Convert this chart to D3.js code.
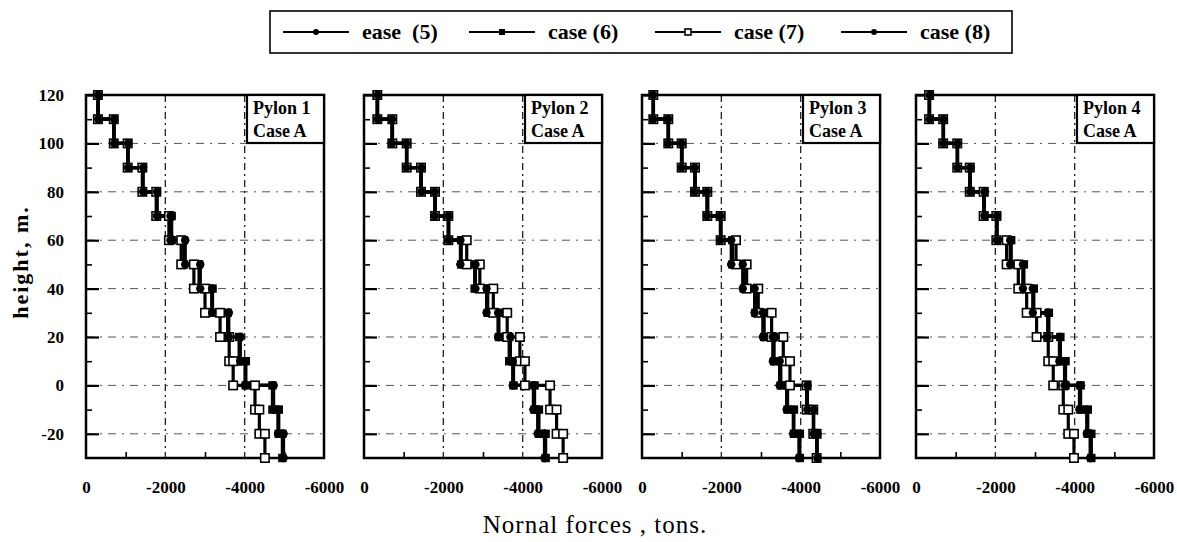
<!DOCTYPE html>
<html>
<head>
<meta charset="utf-8">
<script src="https://cdn.jsdelivr.net/npm/d3@7"></script>
<style>
body { margin: 0; background: #fff; }
svg { display: block; }
.tick text { font-family: "Liberation Serif", "DejaVu Serif", serif; font-weight: bold; font-size: 17px; fill: #000; }
</style>
</head>
<body>
<div id="chart"></div>
<script>
// heights of the segment ends (m), top to bottom
var heights = [120, 110, 100, 90, 80, 70, 60, 50, 40, 30, 20, 10, 0, -10, -20, -30];
var yMajor = [120, 100, 80, 60, 40, 20, 0, -20];
var yMinor = [110, 90, 70, 50, 30, 10, -10];
var yGrid = [100, 80, 60, 40, 20, 0, -20];
var xMajor = [0, -2000, -4000, -6000];
var xMinor = [-1000, -3000, -5000];
var xGrid = [-2000, -4000];
var caseNames = ["ease  (5)", "case (6)", "case (7)", "case (8)"];
var pylonNames = ["Pylon 1", "Pylon 2", "Pylon 3", "Pylon 4"];
var subTitle = "Case A";

// normal force per segment (tons), one value per 10 m segment
var p1c5 = [-300, -700, -1050, -1430, -1780, -2150, -2490, -2870, -3170, -3590, -3880, -4010, -4720, -4840, -4970];
var p1c6 = [-300, -700, -1060, -1430, -1790, -2160, -2470, -2850, -3190, -3570, -3860, -4030, -4700, -4860, -4950];
var p1c7 = [-300, -700, -1050, -1420, -1770, -2090, -2400, -2720, -3000, -3380, -3610, -3710, -4260, -4370, -4510];
var p1c8 = [-310, -710, -1060, -1440, -1790, -2130, -2500, -2880, -3180, -3600, -3890, -4020, -4730, -4850, -4980];

var p2c5 = [-340, -710, -1075, -1440, -1790, -2125, -2440, -2800, -3100, -3390, -3680, -3760, -4280, -4390, -4560];
var p2c6 = [-330, -720, -1080, -1430, -1800, -2140, -2450, -2790, -3120, -3400, -3660, -3770, -4300, -4410, -4580];
var p2c7 = [-336, -714, -1075, -1437, -1790, -2125, -2590, -2920, -3260, -3610, -3930, -4057, -4690, -4855, -5020];
var p2c8 = [-345, -705, -1070, -1445, -1785, -2130, -2430, -2810, -3090, -3380, -3690, -3750, -4270, -4380, -4550];

var p3c5 = [-285, -663, -1000, -1336, -1646, -1983, -2260, -2553, -2848, -3057, -3310, -3478, -3646, -3814, -3956];
var p3c6 = [-290, -670, -1010, -1340, -1660, -1990, -2280, -2570, -2860, -3080, -3330, -3500, -3670, -3830, -3980];
var p3c7 = [-285, -663, -1000, -1336, -1646, -1983, -2370, -2638, -2931, -3268, -3562, -3730, -4150, -4318, -4402];
var p3c8 = [-280, -660, -995, -1330, -1640, -1975, -2250, -2540, -2840, -3050, -3300, -3470, -4170, -4330, -4420];

var p4c5 = [-336, -689, -1042, -1361, -1714, -2033, -2386, -2705, -2956, -3334, -3629, -3755, -4133, -4318, -4402];
var p4c6 = [-340, -695, -1050, -1370, -1720, -2045, -2400, -2720, -2970, -3350, -3640, -3770, -4150, -4330, -4420];
var p4c7 = [-330, -685, -1040, -1355, -1705, -2025, -2285, -2579, -2790, -3041, -3334, -3460, -3713, -3839, -3982];
var p4c8 = [-345, -690, -1045, -1365, -1725, -2040, -2375, -2695, -2945, -3320, -3615, -3745, -4120, -4305, -4390];

var pylons = [
    [p1c5, p1c6, p1c7, p1c8],
    [p2c5, p2c6, p2c7, p2c8],
    [p3c5, p3c6, p3c7, p3c8],
    [p4c5, p4c6, p4c7, p4c8]
];

var width = 1177, height = 542;
var panelLeft = [86, 364, 642, 916];
var panelW = 238;
var plotTop = 95, plotBottom = 458;
var serif = "'Liberation Serif', 'DejaVu Serif', serif";
var fmt = function(d) { return String(d); };   // plain hyphen minus like the scan

var svg = d3.select("#chart").append("svg")
    .attr("width", width)
    .attr("height", height);

var y = d3.scaleLinear().domain([-30, 120]).range([plotBottom, plotTop]);

// marker for each case (s = half size)
function drawMarker(g, k, cx, cy, s) {
    if (k == 0 || k == 3) {
        g.append("circle").attr("cx", cx).attr("cy", cy).attr("r", s).attr("fill", "#000");
    } else if (k == 1) {
        g.append("rect").attr("x", cx - s).attr("y", cy - s).attr("width", 2 * s).attr("height", 2 * s).attr("fill", "#000");
    } else {
        g.append("rect").attr("x", cx - s).attr("y", cy - s).attr("width", 2 * s).attr("height", 2 * s)
            .attr("fill", "#fff").attr("stroke", "#000").attr("stroke-width", 1.6);
    }
}

pylons.forEach(function(cases, p) {
    var left = panelLeft[p];
    var x = d3.scaleLinear().domain([0, -6000]).range([left, left + panelW]);
    var g = svg.append("g");

    // grid lines dash-dot
    g.selectAll(".hgrid").data(yGrid).enter().append("line")
        .attr("x1", left).attr("x2", left + panelW)
        .attr("y1", function(d) { return y(d); }).attr("y2", function(d) { return y(d); })
        .attr("stroke", "#555").attr("stroke-width", 1).attr("stroke-dasharray", "8,6,2,6");
    g.selectAll(".vgrid").data(xGrid).enter().append("line")
        .attr("y1", plotTop).attr("y2", plotBottom)
        .attr("x1", function(d) { return x(d); }).attr("x2", function(d) { return x(d); })
        .attr("stroke", "#222").attr("stroke-width", 1.3).attr("stroke-dasharray", "7,4,2,4");

    // y ticks (inside)
    var yAx = g.append("g").attr("transform", "translate(" + left + ",0)")
        .call(d3.axisLeft(y).tickValues(yMajor).tickSize(-13).tickFormat(p == 0 ? fmt : "").tickPadding(22));
    yAx.selectAll(".tick line").attr("stroke-width", 2.2);
    yAx.select(".domain").remove();
    var yAx2 = g.append("g").attr("transform", "translate(" + left + ",0)")
        .call(d3.axisLeft(y).tickValues(yMinor).tickSize(-6).tickFormat(""));
    yAx2.selectAll(".tick line").attr("stroke-width", 1.6);
    yAx2.select(".domain").remove();

    // x ticks (inside) and labels
    var xAx = g.append("g").attr("transform", "translate(0," + plotBottom + ")")
        .call(d3.axisBottom(x).tickValues(xMajor).tickSize(0).tickPadding(23).tickFormat(fmt));
    xAx.select(".domain").remove();
    var xAx2 = g.append("g").attr("transform", "translate(0," + plotBottom + ")")
        .call(d3.axisBottom(x).tickValues(xMinor).tickSize(-6).tickFormat(""));
    xAx2.selectAll(".tick line").attr("stroke-width", 1.6);
    xAx2.select(".domain").remove();

    // frame
    g.append("rect").attr("x", left).attr("y", plotTop).attr("width", panelW).attr("height", plotBottom - plotTop)
        .attr("fill", "none").attr("stroke", "#000").attr("stroke-width", 2.5);

    // step curves
    cases.forEach(function(vals, k) {
        var pts = [];
        vals.forEach(function(v, i) {
            pts.push([x(v), y(heights[i])]);
            pts.push([x(v), y(heights[i + 1])]);
        });
        g.append("path").attr("d", d3.line()(pts))
            .attr("fill", "none").attr("stroke", "#000").attr("stroke-width", 3.2);
    });
    cases.forEach(function(vals, k) {
        var mg = g.append("g");
        vals.forEach(function(v, i) {
            drawMarker(mg, k, x(v), y(heights[i]), 4.2);
            drawMarker(mg, k, x(v), y(heights[i + 1]), 4.2);
        });
    });

    // pylon label box
    var bw = 77, bh = 48;
    g.append("rect").attr("x", left + panelW - bw).attr("y", plotTop).attr("width", bw).attr("height", bh)
        .attr("fill", "#fff").attr("stroke", "#000").attr("stroke-width", 2.2);
    g.append("text").attr("x", left + panelW - bw + 6).attr("y", plotTop + 19)
        .style("font-family", serif).style("font-weight", "bold").style("font-size", "18px")
        .text(pylonNames[p]);
    g.append("text").attr("x", left + panelW - bw + 6).attr("y", plotTop + 42)
        .style("font-family", serif).style("font-weight", "bold").style("font-size", "18px")
        .text(subTitle);
});

// axis titles
svg.append("text")
    .attr("transform", "translate(28,262) rotate(-90)")
    .attr("text-anchor", "middle")
    .style("font-family", serif).style("font-weight", "bold").style("font-size", "22px")
    .style("letter-spacing", "2px")
    .text("height, m.");
svg.append("text")
    .attr("x", 595).attr("y", 533)
    .attr("text-anchor", "middle")
    .style("font-family", serif).style("font-size", "25px")
    .style("letter-spacing", "1px")
    .text("Nornal forces , tons.");

// legend
var legend = svg.append("g");
legend.append("rect").attr("x", 270).attr("y", 11).attr("width", 742).attr("height", 42)
    .attr("fill", "#fff").attr("stroke", "#000").attr("stroke-width", 1.6);
caseNames.forEach(function(name, k) {
    var x0 = 283 + k * 186;
    legend.append("line").attr("x1", x0).attr("x2", x0 + 66).attr("y1", 32).attr("y2", 32)
        .attr("stroke", "#000").attr("stroke-width", 2);
    drawMarker(legend, k, x0 + 33, 32, 3);
    legend.append("text").attr("x", x0 + 79).attr("y", 39)
        .style("font-family", serif).style("font-size", "22px").style("font-weight", "bold")
        .style("white-space", "pre")
        .text(name);
});
</script>
</body>
</html>
